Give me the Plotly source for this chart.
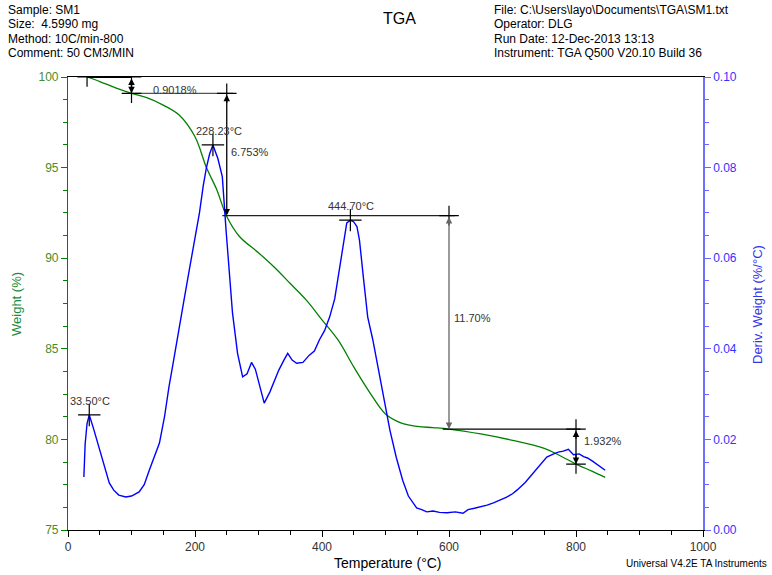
import plotly.graph_objects as go

# ---------------- data ----------------
weight_T = [30, 50, 75, 100, 125, 150, 175, 200, 218, 234, 250, 270, 300, 325, 350, 375,
            400, 425, 450, 475, 500, 525, 550, 575, 600, 650, 700, 750, 775, 800, 825, 846]
weight_W = [100.0, 99.75, 99.4, 99.1, 98.85, 98.45, 97.9, 96.7, 95.0, 93.8, 92.3, 91.2, 90.3,
            89.5, 88.6, 87.7, 86.6, 85.5, 84.0, 82.6, 81.4, 80.9, 80.72, 80.65, 80.57, 80.3,
            79.95, 79.5, 79.1, 78.64, 78.25, 77.9]

deriv_T = [25, 27, 30, 33.5, 40, 49, 57, 65, 72, 80, 91, 100, 112, 120, 128, 136, 144, 152,
           159, 167, 175, 183, 191, 199, 207, 213, 218, 223, 228.2, 236, 243, 249, 254, 259,
           267, 275, 282, 289, 295, 301, 309, 318, 325, 332, 340, 346, 353, 360, 370, 380,
           388, 396, 404, 412, 420, 428, 434, 439, 444.7, 450, 455, 459, 465, 472, 480, 491,
           499, 507, 517, 527, 536, 543, 549, 557, 565, 575, 585, 597, 610, 622, 630, 640,
           649, 660, 670, 680, 690, 700, 707, 720, 733, 745, 754, 765, 772, 780, 788, 796,
           805, 812, 818, 826, 833, 840, 846]
deriv_D = [0.0117, 0.0190, 0.0235, 0.0254, 0.0225, 0.0183, 0.0140, 0.0104, 0.0088, 0.0077,
           0.0073, 0.0075, 0.0084, 0.0100, 0.0132, 0.0160, 0.0192, 0.0250, 0.0316, 0.0380,
           0.0441, 0.0510, 0.0574, 0.0640, 0.0700, 0.0760, 0.0800, 0.0830, 0.0850, 0.0820,
           0.0780, 0.0660, 0.0560, 0.0480, 0.0390, 0.0338, 0.0345, 0.0370, 0.0355, 0.0325,
           0.0280, 0.0305, 0.0330, 0.0353, 0.0375, 0.0390, 0.0375, 0.0368, 0.0370, 0.0386,
           0.0395, 0.0420, 0.0440, 0.0470, 0.0510, 0.0580, 0.0640, 0.0678, 0.0684, 0.0680,
           0.0670, 0.0640, 0.0560, 0.0470, 0.0420, 0.0338, 0.0280, 0.0220, 0.0160, 0.0110,
           0.0075, 0.0060, 0.0049, 0.0045, 0.0040, 0.0042, 0.0039, 0.0038, 0.0040, 0.0037,
           0.0045, 0.0048, 0.0051, 0.0055, 0.0060, 0.0066, 0.0072, 0.0080, 0.0088, 0.0105,
           0.0126, 0.0145, 0.0161, 0.0168, 0.0172, 0.0174, 0.0178, 0.0166, 0.0168, 0.0162,
           0.0159, 0.0152, 0.0145, 0.0138, 0.0132]

# peak labels
peak_T = [33.50, 228.23, 444.70]
peak_D = [0.0254, 0.0850, 0.0684]
peak_labels = ["33.50°C", "228.23°C", "444.70°C"]

# step changes (weight loss analysis)
step_T = [100, 250, 600, 800]
step_top = [100.0, 99.10, 92.35, 80.57]
step_bottom = [99.10, 92.35, 80.57, 78.64]
step_labels = ["0.9018%", "6.753%", "11.70%", "1.932%"]
step_start_T = 30

GREEN = "#008000"
BLUE = "#0000ff"
FONT = "Liberation Sans, Arial, sans-serif"

fig = go.Figure()

fig.add_trace(go.Scatter(x=weight_T, y=weight_W, mode="lines", line=dict(color=GREEN, width=1.3),
                         yaxis="y", showlegend=False, line_shape="spline"))
fig.add_trace(go.Scatter(x=deriv_T, y=deriv_D, mode="lines", line=dict(color=BLUE, width=1.4),
                         yaxis="y2", showlegend=False))

# peak crosses
fig.add_trace(go.Scatter(x=peak_T, y=peak_D, mode="markers", yaxis="y2", showlegend=False,
                         marker=dict(symbol="cross-thin", size=16, line=dict(width=1.2, color="black"))))

# step construction lines
fig.add_trace(go.Scatter(x=[step_start_T, step_T[0]], y=[step_top[0], step_top[0]], mode="lines",
                         line=dict(color="black", width=2), showlegend=False))
hlines = [
    ([step_T[0] - 8, step_T[1] + 10], step_bottom[0], "#555555"),
    ([step_T[1] - 7, step_T[2] + 9], step_bottom[1], "#222222"),
    ([step_T[2] - 10, step_T[3] + 7], step_bottom[2], "#000000"),
]
for xs, yv, col in hlines:
    fig.add_trace(go.Scatter(x=xs, y=[yv, yv], mode="lines", line=dict(color=col, width=1.2),
                             showlegend=False))

# crosses at step ends
cx = [step_start_T, step_T[0], step_T[0], step_T[1], step_T[2], step_T[3], step_T[3]]
cy = [step_top[0], step_top[0], step_bottom[0], step_top[1], step_top[2], step_top[3], step_bottom[3]]
fig.add_trace(go.Scatter(x=cx, y=cy, mode="markers", showlegend=False,
                         marker=dict(symbol="cross-thin", size=14, line=dict(width=1.2, color="black"))))

annotations = []
vcols = ["black", "black", "#666666", "black"]
for t, a, b, c in zip(step_T, step_top, step_bottom, vcols):
    annotations.append(dict(x=t, y=b, ax=t, ay=a, xref="x", yref="y", axref="x", ayref="y",
                            showarrow=True, arrowside="end+start", arrowhead=2, arrowsize=1,
                            arrowwidth=1.3, arrowcolor=c, text=""))

# peak labels
peak_xshift = [1, 6, 1]
for t, d, txt, xs in zip(peak_T, peak_D, peak_labels, peak_xshift):
    annotations.append(dict(x=t, y=d, xref="x", yref="y2", text=txt, showarrow=False,
                            yshift=14, xshift=xs, font=dict(family=FONT, size=11, color="#333333")))

# step labels
lab_pos = [(169, 99.28, "center"), (254, 95.85, "left"), (605, 86.7, "left"), (810, 79.9, "left")]
for (x, y, anc), txt in zip(lab_pos, step_labels):
    annotations.append(dict(x=x, y=y, xref="x", yref="y", text=txt, showarrow=False,
                            xanchor=anc, font=dict(family=FONT, size=11, color="#333333")))

# header / titles placed in pixel terms relative to plot area (68..703, 77..530)
def px_x(p):
    return (p - 68) / 635.0

def px_y(p):
    return (530 - p) / 453.0

left_lines = ["Sample: SM1", "Size:  4.5990 mg", "Method: 10C/min-800", "Comment: 50 CM3/MIN"]
right_lines = ["File: C:\\Users\\layo\\Documents\\TGA\\SM1.txt", "Operator: DLG",
               "Run Date: 12-Dec-2013 13:13", "Instrument: TGA Q500 V20.10 Build 36"]
for i, (l, r) in enumerate(zip(left_lines, right_lines)):
    yy = px_y(10 + i * 14.3)
    annotations.append(dict(x=px_x(6), y=yy, xref="paper", yref="paper", text=l, showarrow=False,
                            xanchor="left", yanchor="middle", font=dict(family=FONT, size=12, color="black")))
    annotations.append(dict(x=px_x(492), y=yy, xref="paper", yref="paper", text=r, showarrow=False,
                            xanchor="left", yanchor="middle", font=dict(family=FONT, size=12, color="black")))

annotations.append(dict(x=px_x(399), y=px_y(18), xref="paper", yref="paper", text="TGA", showarrow=False,
                        xanchor="center", yanchor="middle", font=dict(family=FONT, size=16, color="black")))
annotations.append(dict(x=px_x(769), y=px_y(563), xref="paper", yref="paper",
                        text="Universal V4.2E TA Instruments", showarrow=False,
                        xanchor="right", yanchor="middle", font=dict(family=FONT, size=10, color="black")))
annotations.append(dict(x=px_x(388), y=px_y(563), xref="paper", yref="paper",
                        text="Temperature (°C)", showarrow=False,
                        xanchor="center", yanchor="middle", font=dict(family=FONT, size=14, color="black")))
annotations.append(dict(x=px_x(16), y=px_y(304), xref="paper", yref="paper",
                        text="Weight (%)", showarrow=False, textangle=-90,
                        xanchor="center", yanchor="middle", font=dict(family=FONT, size=13, color="#1a8a3a")))
annotations.append(dict(x=px_x(757), y=px_y(305), xref="paper", yref="paper",
                        text="Deriv. Weight (%/°C)", showarrow=False, textangle=-90,
                        xanchor="center", yanchor="middle", font=dict(family=FONT, size=13, color="#3333ee")))

fig.update_layout(
    width=772, height=575,
    margin=dict(l=68, r=69, t=77, b=45, autoexpand=False),
    paper_bgcolor="white", plot_bgcolor="white",
    showlegend=False,
    annotations=annotations,
    xaxis=dict(range=[0, 1000], tickvals=[0, 200, 400, 600, 800, 1000], ticks="outside", ticklen=6,
               tickcolor="black", showline=True, linecolor="black", linewidth=1, mirror=True,
               showgrid=False, zeroline=False, automargin=False,
               minor=dict(dtick=50, ticks="outside", ticklen=4, tickcolor="black"),
               tickfont=dict(family=FONT, size=12, color="#333333")),
    yaxis=dict(range=[75, 100], dtick=5, ticks="outside", ticklen=6, tickcolor=GREEN,
               showline=True, linecolor=GREEN, linewidth=1.2, showgrid=False, zeroline=False,
               automargin=False,
               minor=dict(dtick=1.25, ticks="outside", ticklen=4, tickcolor=GREEN),
               tickfont=dict(family=FONT, size=12, color="#4a8c2a")),
    yaxis2=dict(range=[0, 0.1], dtick=0.02, tickformat=".2f", overlaying="y", side="right", anchor="x",
                ticks="outside", ticklen=6, tickcolor="#6666ff", automargin=False,
                showline=True, linecolor="#6f6fff", linewidth=1.5, showgrid=False, zeroline=False,
                minor=dict(dtick=0.005, ticks="outside", ticklen=4, tickcolor="#6666ff"),
                tickfont=dict(family=FONT, size=12, color="#3333ff")),
)

fig.write_html("out.html")
